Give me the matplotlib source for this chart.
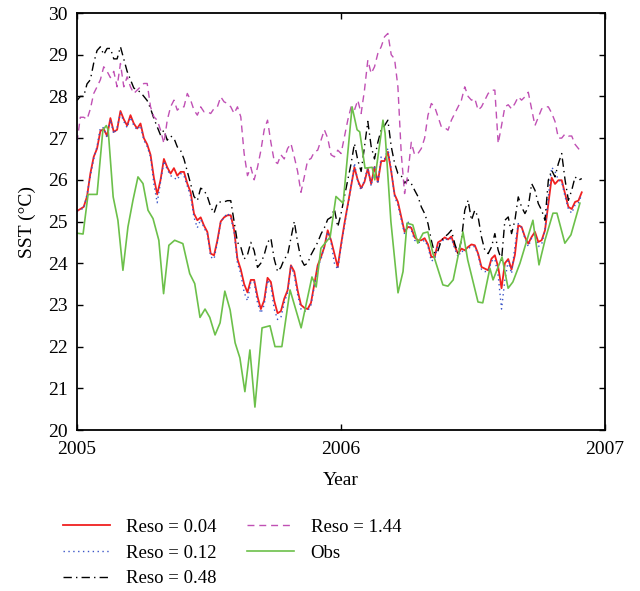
import numpy as np
import matplotlib
matplotlib.use("Agg")
import matplotlib.pyplot as plt

# model runs, sampled every ~4.6 days from 2005.0 to ~2006.91
reso_004 = [
    25.25, 25.3,
    25.35, 25.6, 26.15, 26.55, 26.75, 27.17, 27.22, 27.05, 27.48, 27.15,
    27.2, 27.65, 27.45, 27.3, 27.55, 27.35, 27.23, 27.35, 27.0, 26.85,
    26.6, 26.05, 25.65, 26.0, 26.5, 26.3, 26.15, 26.28, 26.1, 26.19,
    26.19, 25.91, 25.7, 25.19, 25.03, 25.1, 24.9, 24.75,
    24.23, 24.19, 24.55, 25.0, 25.1, 25.15, 25.15, 24.8, 24.1, 23.85,
    23.5, 23.3, 23.6, 23.6, 23.2, 22.9, 23.11, 23.65, 23.55, 23.1,
    22.8, 22.85, 23.15, 23.35, 23.95, 23.8, 23.35, 23.0, 22.93, 22.9,
    23.05, 23.5, 23.95, 24.15, 24.39, 24.79, 24.55, 24.23,
    23.91, 24.45, 24.95, 25.4, 25.85, 26.3, 25.99, 25.8, 25.95, 26.27,
    25.9, 26.31, 25.95, 26.45, 26.45, 26.67, 26.2, 25.65, 25.47, 25.11,
    24.75, 24.87, 24.85, 24.62, 24.55, 24.55, 24.6, 24.45, 24.15, 24.15,
    24.5, 24.55, 24.62, 24.57, 24.64, 24.4, 24.23, 24.35,
    24.31, 24.39, 24.45, 24.43, 24.23, 23.91, 23.87, 23.83, 24.11, 24.19,
    23.91, 23.4, 24.0, 24.1, 23.85, 24.2, 24.91, 24.87, 24.63, 24.47,
    24.63, 24.75, 24.51, 24.55, 24.79, 25.43, 26.05, 25.9, 25.99, 25.99,
    25.67, 25.35, 25.3, 25.47, 25.5, 25.7]

reso_012 = [
    25.25, 25.3,
    25.3, 25.65, 26.1, 26.5, 26.8, 27.25, 27.25, 27.0, 27.45, 27.1,
    27.25, 27.6, 27.4, 27.25, 27.5, 27.3, 27.2, 27.3, 26.95, 26.8,
    26.55, 25.9, 25.45, 25.95, 26.45, 26.25, 26.1, 26.05, 26.0, 26.15,
    26.1, 25.85, 25.6, 25.1, 24.85, 25.05, 24.85, 24.7,
    24.15, 24.1, 24.5, 25.0, 25.1, 25.2, 25.1, 24.75, 24.0, 23.75,
    23.3, 23.1, 23.55, 23.55, 23.05, 22.8, 23.0, 23.6, 23.45, 22.9,
    22.65, 22.7, 23.05, 23.3, 23.95, 23.7, 23.25, 22.9, 22.85, 22.85,
    23.0, 23.45, 23.9, 24.1, 24.4, 24.75, 24.5, 24.0,
    23.85, 24.4, 24.9, 25.35, 25.85, 26.4, 25.95, 25.75, 26.0, 26.3,
    25.85, 26.35, 25.9, 26.55, 26.5, 26.75, 26.25, 25.6, 25.4, 25.05,
    24.7, 25.0, 24.8, 24.55, 24.5, 24.5, 24.55, 24.4, 24.05, 24.1,
    24.45, 24.5, 24.6, 24.55, 24.6, 24.35, 24.15, 24.3,
    24.25, 24.35, 24.4, 24.4, 24.2, 23.85, 23.8, 23.8, 24.05, 24.1,
    23.7, 22.9, 23.6, 24.05, 23.75, 24.4, 24.95, 24.85, 24.6, 24.4,
    24.6, 24.7, 24.4, 24.45, 24.8, 25.6, 26.3, 26.2, 26.0, 25.95,
    25.6, 25.3, 25.2, 25.4, 25.45, 25.65]

reso_048 = [
    27.9, 28.0,
    28.0, 28.3, 28.4, 28.8, 29.1, 29.19, 29.0, 29.15, 29.15, 28.9,
    28.9, 29.19, 28.9, 28.6, 28.4, 28.2, 28.15, 28.1, 28.0, 27.9,
    27.71, 27.47, 27.27, 27.07, 27.19, 26.95, 27.05, 27.0, 26.79, 26.7,
    26.5, 26.2, 25.91, 25.6, 25.5, 25.8, 25.75, 25.6,
    25.35, 25.2, 25.45, 25.47, 25.47, 25.5, 25.5, 25.0, 24.5, 24.39,
    24.1, 24.2, 24.5, 24.3, 23.9, 24.0, 24.2, 24.5, 24.6, 24.1,
    23.8, 23.9, 24.1, 24.2, 24.6, 25.0, 24.5, 24.1, 23.95, 24.0,
    24.2, 24.35, 24.5, 24.7, 24.85, 25.05, 25.1, 25.3,
    24.87, 25.19, 25.6, 25.99, 26.39, 26.87, 26.47, 26.2, 26.79, 27.4,
    26.8, 26.5, 26.9, 27.2, 27.3, 27.43, 26.8, 26.4, 26.15, 26.1,
    25.92, 26.0, 25.91, 25.75, 25.6, 25.35, 25.19, 24.95, 24.55, 24.23,
    24.3, 24.55, 24.63, 24.7, 24.79, 24.47, 24.23, 24.55,
    25.27, 25.51, 25.03, 25.27, 25.11, 24.63, 24.31, 24.23, 24.39, 24.71,
    24.31, 24.07, 25.03, 25.11, 24.71, 25.03, 25.59, 25.35, 25.19, 25.35,
    25.91, 25.75, 25.43, 25.27, 25.03, 25.99, 26.23, 26.07, 26.39, 26.63,
    26.0, 25.51, 25.75, 26.07, 25.99, 26.03]

reso_144 = [
    26.9, 27.5,
    27.5, 27.45, 27.7, 28.07, 28.23, 28.4, 28.71, 28.6, 28.45, 28.6,
    28.23, 28.79, 28.23, 28.47, 28.23, 28.07, 28.15, 28.23, 28.31, 28.31,
    27.75, 27.51, 27.43, 27.19, 26.87, 27.43, 27.75, 27.91, 27.67, 27.75,
    27.75, 28.07, 27.91, 27.67, 27.55, 27.75, 27.63, 27.63,
    27.59, 27.71, 27.75, 27.99, 27.87, 27.83, 27.75, 27.59, 27.75, 27.51,
    26.63, 26.1, 26.3, 26.0, 26.3, 26.7, 27.2, 27.43, 26.9, 26.45,
    26.39, 26.6, 26.5, 26.75, 26.87, 26.55, 26.2, 25.7, 26.07, 26.47,
    26.51, 26.67, 26.71, 26.95, 27.2, 27.0, 26.6, 26.55,
    26.71, 26.63, 27.03, 27.43, 27.75, 27.67, 27.91, 27.59, 28.15, 28.87,
    28.55, 28.71, 29.03, 29.19, 29.43, 29.51, 29.0, 28.9, 28.23, 26.63,
    25.67, 26.15, 26.9, 26.6, 26.63, 26.75, 27.0, 27.55, 27.83, 27.75,
    27.51, 27.27, 27.25, 27.19, 27.43, 27.59, 27.75, 27.91,
    28.23, 28.0, 27.91, 27.95, 27.67, 27.75, 27.91, 28.07, 28.15, 28.15,
    26.87, 27.3, 27.75, 27.8, 27.7, 27.83, 27.99, 27.91, 27.99, 28.1,
    27.7, 27.3, 27.5, 27.7, 27.75, 27.75, 27.6, 27.4, 27.0, 27.0,
    27.1, 27.05, 27.05, 26.85, 26.75, 26.65]

# observations (years after 2005.0, SST)
obs_t = [
    0.000, 0.023, 0.042, 0.076, 0.098, 0.111, 0.118, 0.137, 0.155, 0.174,
    0.193, 0.212, 0.231, 0.250, 0.269, 0.288, 0.310, 0.328, 0.348, 0.370,
    0.401, 0.427, 0.446, 0.466, 0.485, 0.503, 0.523, 0.542, 0.560, 0.580,
    0.599, 0.617, 0.636, 0.655, 0.674, 0.701, 0.731, 0.750, 0.776, 0.807,
    0.849, 0.890, 0.906, 0.924, 0.959, 0.981, 1.008, 1.042, 1.061, 1.071,
    1.091, 1.118, 1.128, 1.159, 1.167, 1.189, 1.216, 1.235, 1.250, 1.272,
    1.291, 1.311, 1.329, 1.348, 1.386, 1.405, 1.425, 1.462, 1.480, 1.519,
    1.537, 1.564, 1.576, 1.610, 1.633, 1.651, 1.678, 1.727, 1.750, 1.773,
    1.803, 1.818, 1.848, 1.871, 1.905]
obs_v = [
    24.72, 24.70, 25.65, 25.65, 27.19, 27.3, 27.2, 25.59, 25.03, 23.83,
    24.87, 25.51, 26.07, 25.91, 25.27, 25.07, 24.55, 23.27, 24.43, 24.55,
    24.47, 23.75, 23.51, 22.7, 22.9, 22.7, 22.28, 22.57, 23.33, 22.88,
    22.09, 21.73, 20.92, 21.92, 20.55, 22.45, 22.5, 22.0, 22.0, 23.36,
    22.45, 23.67, 23.43, 24.36, 24.63, 25.6, 25.44, 27.75, 27.2, 27.15,
    26.28, 26.3, 26.0, 27.43, 27.12, 25.0, 23.29, 23.8, 24.96, 24.92,
    24.48, 24.72, 24.75, 24.24, 23.48, 23.45, 23.6, 24.75, 24.08, 23.07,
    23.05, 23.88, 23.6, 24.15, 23.4, 23.55, 24.0, 25.03, 23.96, 24.56,
    25.2, 25.2, 24.48, 24.68, 25.44]

plt.rcParams['font.family'] = ['Liberation Serif', 'DejaVu Serif']

fig = plt.figure(figsize=(6.4, 5.91), dpi=100)
ax = fig.add_axes([0.1203, 0.2724, 0.825, 0.7056])

t_model = np.linspace(2005, 2006.912, len(reso_004))
ax.plot(t_model, reso_004, color='#f02020', lw=1.3, label='Reso = 0.04')
ax.plot(t_model, reso_012, color='#3a55c8', lw=1.0, ls=(0, (1, 2.5)), label='Reso = 0.12')
ax.plot(t_model, reso_048, color='black', lw=1.0, ls=(0, (6, 3, 1, 3)), label='Reso = 0.48')
ax.plot(t_model, reso_144, color='#c050b4', lw=1.0, ls=(0, (5, 3.5)), label='Reso = 1.44')
ax.plot(2005 + np.array(obs_t), obs_v, color='#6cc04a', lw=1.2, label='Obs')

ax.set_xlim(2005, 2007)
ax.set_ylim(20, 30)
ax.set_xticks([2005, 2006, 2007])
ax.set_xticklabels(['2005', '2006', '2007'])
ax.set_yticks(range(20, 31))
ax.tick_params(direction='in', top=True, right=True, length=4, width=1,
               labelsize=14)
ax.tick_params(axis='x', pad=8)
ax.tick_params(axis='y', pad=6.5)
for s in ax.spines.values():
    s.set_linewidth(1.3)

ax.set_xlabel('Year', fontsize=14, labelpad=10)
ax.set_ylabel('SST (°C)', fontsize=14, labelpad=9)

fig.legend(loc='upper left', bbox_to_anchor=(0.098, 0.122), ncol=2,
           frameon=False, fontsize=13.5, handlelength=2.5, handletextpad=0.9,
           columnspacing=1.6, labelspacing=0.45, borderpad=0, borderaxespad=0)

fig.savefig('out.png', dpi=100)
